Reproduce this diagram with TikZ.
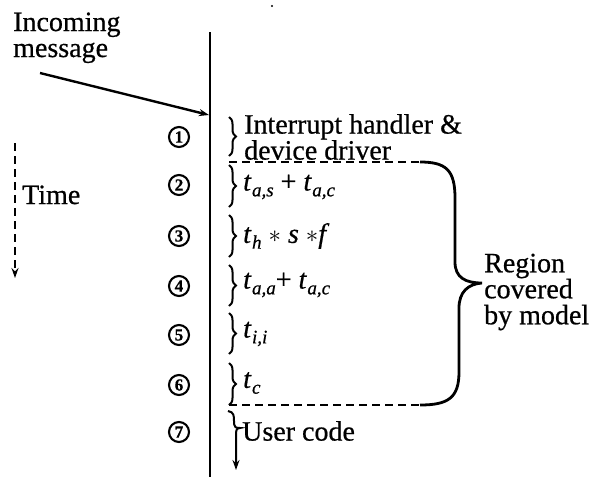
\documentclass[tikz,border=0pt]{standalone}
\usepackage{fontspec}
\setmainfont{Liberation Serif}[FakeBold=0.6]
\usetikzlibrary{arrows.meta,decorations.pathreplacing}
% italic t with a lowered italic subscript
\newcommand{\tsb}[1]{\textit{t}\kern0.5pt\raisebox{-0.45ex}{\fontsize{19}{19}\selectfont\itshape #1}}
\begin{document}
\begin{tikzpicture}[x=1pt,y=-1pt,
  lbl/.style={font=\fontsize{28}{26}\selectfont, inner sep=0pt},
  stepnum/.style={circle, draw, line width=2.1pt, minimum size=20pt, inner sep=0pt,
    font=\fontsize{17}{17}\selectfont\bfseries},
  rowbrace/.style={decorate, decoration={brace, amplitude=7pt}, line width=2pt},
  bound/.style={dash pattern=on 8pt off 5pt, line width=1.6pt},
  axis/.style={line width=2.8pt},
  arr/.style={-{Stealth[length=10pt,width=7pt]}}]
\useasboundingbox (0,0) rectangle (608,477);

% time line of the message path
\coordinate (top) at (210,32);
\coordinate (bot) at (210,477);
\draw[axis] (top) -- (bot);

% incoming message (base anchor sits on the last line)
\node[lbl, anchor=base west, align=left] (inc) at (13,57) {Incoming\\message};
\coordinate (a0) at (40,73);
\coordinate (hit) at (209,115);
\draw[line width=2.4pt, arr] (a0) -- (hit);

% stray dot
\fill (272,6) circle (1.2pt);

% time axis
\coordinate (t0) at (15,143);
\coordinate (t1) at (15,278);
\draw[line width=2pt, dash pattern=on 8pt off 5pt, arr] (t0) -- (t1);
\node[lbl, anchor=base west] (time) at (22,204) {Time};

% step numbers
\node[stepnum] (n1) at (179,137) {1};
\node[stepnum] (n2) at (179,185) {2};
\node[stepnum] (n3) at (179,236) {3};
\node[stepnum] (n4) at (179,286) {4};
\node[stepnum] (n5) at (179,335) {5};
\node[stepnum] (n6) at (179,385) {6};
\node[stepnum] (n7) at (179,432) {7};

% braces for each step
\draw[rowbrace] (229,117) -- (229,156);
\draw[rowbrace] (229,165) -- (229,207);
\draw[rowbrace] (229,215) -- (229,257);
\draw[rowbrace] (229,265) -- (229,306);
\draw[rowbrace] (229,313) -- (229,354);
\draw[rowbrace] (229,363) -- (229,405);
% last brace runs on into an arrow
\draw[line width=2pt, arr] (228,411) .. controls (234,412) and (234,416) .. (234,421)
  -- (234,424) .. controls (234,427) and (236,428) .. (240,428)
  .. controls (236,428) and (236,431) .. (236,436) -- (236,470);

% step texts
\node[lbl, anchor=west, align=left] (s1) at (244,137) {Interrupt handler \&\\device driver};
\node[lbl, anchor=west] (s2) at (243,187) {\tsb{a,s} + \tsb{a,c}};
\node[lbl, anchor=west] (s3) at (243,236) {\tsb{h} $\ast$ \textit{s} $\ast$\textit{f}};
\node[lbl, anchor=west] (s4) at (243,285) {\tsb{a,a}+ \tsb{a,c}};
\node[lbl, anchor=west] (s5) at (243,334) {\tsb{i,i}};
\node[lbl, anchor=west] (s6) at (243,383) {\tsb{c}};
\node[lbl, anchor=west] (s7) at (242,431) {User code};

% modelled region
\draw[bound] (229,162) -- (420,162);
\draw[bound] (229,405) -- (420,405);
\draw[line width=2.8pt] (420,162) .. controls (446,162) and (455,170) .. (455,198)
  -- (455,262) .. controls (455,278) and (466,283) .. (482,283)
  .. controls (468,284) and (459,292) .. (459,308)
  -- (459,372) .. controls (459,398) and (448,405) .. (420,405);
\node[lbl, anchor=west, align=left] (reg) at (484,292) {Region\\covered\\by model};
\end{tikzpicture}
\end{document}
